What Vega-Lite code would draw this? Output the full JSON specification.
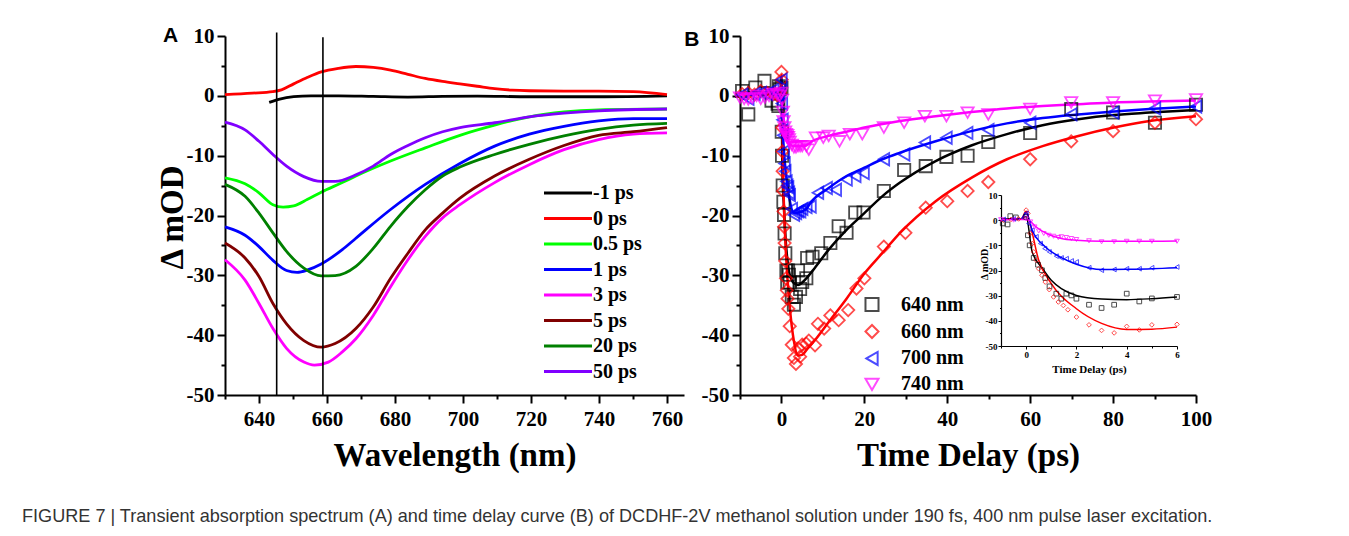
{
"$schema": "https://vega.github.io/schema/vega-lite/v6.json",
"background": "white",
"padding": {"left": 22, "top": 25, "right": 0, "bottom": 0},
"title": {"text": "FIGURE 7 | Transient absorption spectrum (A) and time delay curve (B) of DCDHF-2V methanol solution under 190 fs, 400 nm pulse laser excitation.", "orient": "bottom", "anchor": "start", "dx": -134, "offset": 36, "font": "Liberation Sans", "fontSize": 18.1, "fontWeight": "normal", "color": "#333333"},
"spacing": 0,
"resolve": {"scale": {"color": "independent", "shape": "independent", "stroke": "independent"}},
"datasets": {
"specA": [
{"s":"-1 ps","w":643,"v":-1.1},{"s":"-1 ps","w":646.1,"v":-0.55},{"s":"-1 ps","w":650.2,"v":-0.15},{"s":"-1 ps","w":655.3,"v":0},{"s":"-1 ps","w":663.4,"v":0},{"s":"-1 ps","w":673.6,"v":-0.1},{"s":"-1 ps","w":683.8,"v":-0.2},{"s":"-1 ps","w":694,"v":-0.1},{"s":"-1 ps","w":704.2,"v":-0.05},{"s":"-1 ps","w":719.5,"v":-0.15},{"s":"-1 ps","w":739.9,"v":-0.15},{"s":"-1 ps","w":760,"v":0},
{"s":"0 ps","w":630,"v":0.2},{"s":"0 ps","w":638,"v":0.45},{"s":"0 ps","w":644,"v":0.7},{"s":"0 ps","w":646.6,"v":1.0},{"s":"0 ps","w":650.2,"v":2.0},{"s":"0 ps","w":654.3,"v":3.1},{"s":"0 ps","w":658.3,"v":4.0},{"s":"0 ps","w":663.4,"v":4.6},{"s":"0 ps","w":668.5,"v":4.9},{"s":"0 ps","w":673.6,"v":4.75},{"s":"0 ps","w":678.7,"v":4.3},{"s":"0 ps","w":683.8,"v":3.6},{"s":"0 ps","w":688.9,"v":2.9},{"s":"0 ps","w":694,"v":2.4},{"s":"0 ps","w":699.1,"v":2.0},{"s":"0 ps","w":704.2,"v":1.6},{"s":"0 ps","w":709.3,"v":1.2},{"s":"0 ps","w":714.4,"v":0.95},{"s":"0 ps","w":719.5,"v":0.85},{"s":"0 ps","w":729.7,"v":0.8},{"s":"0 ps","w":739.9,"v":0.8},{"s":"0 ps","w":750.1,"v":0.7},{"s":"0 ps","w":760,"v":0.2},
{"s":"0.5 ps","w":630,"v":-13.7},{"s":"0.5 ps","w":635.9,"v":-14.7},{"s":"0.5 ps","w":640,"v":-16.2},{"s":"0.5 ps","w":644.1,"v":-18.2},{"s":"0.5 ps","w":647.1,"v":-18.6},{"s":"0.5 ps","w":650.2,"v":-18.4},{"s":"0.5 ps","w":654.3,"v":-17.3},{"s":"0.5 ps","w":658.3,"v":-16.1},{"s":"0.5 ps","w":664.5,"v":-14.5},{"s":"0.5 ps","w":668.5,"v":-13.4},{"s":"0.5 ps","w":678.7,"v":-10.9},{"s":"0.5 ps","w":688.9,"v":-8.7},{"s":"0.5 ps","w":699.1,"v":-6.6},{"s":"0.5 ps","w":709.3,"v":-4.9},{"s":"0.5 ps","w":719.5,"v":-3.5},{"s":"0.5 ps","w":729.7,"v":-2.7},{"s":"0.5 ps","w":739.9,"v":-2.35},{"s":"0.5 ps","w":760,"v":-2.2},
{"s":"1 ps","w":630,"v":-21.9},{"s":"1 ps","w":635.9,"v":-23.3},{"s":"1 ps","w":640,"v":-25.2},{"s":"1 ps","w":644.1,"v":-27.5},{"s":"1 ps","w":648.1,"v":-29.2},{"s":"1 ps","w":651.2,"v":-29.5},{"s":"1 ps","w":654.3,"v":-29.1},{"s":"1 ps","w":658.3,"v":-28.1},{"s":"1 ps","w":664.5,"v":-25.7},{"s":"1 ps","w":668.5,"v":-23.8},{"s":"1 ps","w":678.7,"v":-19.0},{"s":"1 ps","w":688.9,"v":-14.8},{"s":"1 ps","w":699.1,"v":-11.3},{"s":"1 ps","w":709.3,"v":-8.4},{"s":"1 ps","w":719.5,"v":-6.4},{"s":"1 ps","w":729.7,"v":-5.1},{"s":"1 ps","w":739.9,"v":-4.2},{"s":"1 ps","w":750.1,"v":-3.8},{"s":"1 ps","w":760,"v":-3.8},
{"s":"3 ps","w":630,"v":-27.4},{"s":"3 ps","w":635.9,"v":-30.8},{"s":"3 ps","w":640,"v":-34.7},{"s":"3 ps","w":644.1,"v":-38.9},{"s":"3 ps","w":648.1,"v":-42.2},{"s":"3 ps","w":653.2,"v":-44.5},{"s":"3 ps","w":656.3,"v":-45.0},{"s":"3 ps","w":660.4,"v":-44.5},{"s":"3 ps","w":664.5,"v":-42.8},{"s":"3 ps","w":668.5,"v":-40.6},{"s":"3 ps","w":673.6,"v":-36.7},{"s":"3 ps","w":678.7,"v":-31.9},{"s":"3 ps","w":683.8,"v":-27.4},{"s":"3 ps","w":688.9,"v":-23.5},{"s":"3 ps","w":694,"v":-20.4},{"s":"3 ps","w":699.1,"v":-18.2},{"s":"3 ps","w":709.3,"v":-14.5},{"s":"3 ps","w":719.5,"v":-11.5},{"s":"3 ps","w":729.7,"v":-9.0},{"s":"3 ps","w":739.9,"v":-7.3},{"s":"3 ps","w":750.1,"v":-6.4},{"s":"3 ps","w":760,"v":-6.2},
{"s":"5 ps","w":630,"v":-24.6},{"s":"5 ps","w":635.9,"v":-27.1},{"s":"5 ps","w":640,"v":-30.2},{"s":"5 ps","w":644.1,"v":-34.7},{"s":"5 ps","w":648.1,"v":-38.1},{"s":"5 ps","w":653.2,"v":-40.9},{"s":"5 ps","w":658.3,"v":-42.0},{"s":"5 ps","w":662.4,"v":-41.4},{"s":"5 ps","w":668.5,"v":-38.9},{"s":"5 ps","w":673.6,"v":-35.3},{"s":"5 ps","w":678.7,"v":-30.5},{"s":"5 ps","w":683.8,"v":-26.3},{"s":"5 ps","w":688.9,"v":-22.4},{"s":"5 ps","w":694,"v":-19.6},{"s":"5 ps","w":699.1,"v":-17.1},{"s":"5 ps","w":709.3,"v":-13.4},{"s":"5 ps","w":719.5,"v":-10.6},{"s":"5 ps","w":729.7,"v":-8.3},{"s":"5 ps","w":739.9,"v":-6.6},{"s":"5 ps","w":750.1,"v":-6.0},{"s":"5 ps","w":760,"v":-5.3},
{"s":"20 ps","w":630,"v":-14.8},{"s":"20 ps","w":635.9,"v":-16.8},{"s":"20 ps","w":640,"v":-19.6},{"s":"20 ps","w":644.1,"v":-22.9},{"s":"20 ps","w":648.1,"v":-26.0},{"s":"20 ps","w":653.2,"v":-28.8},{"s":"20 ps","w":658.3,"v":-30.1},{"s":"20 ps","w":662.4,"v":-30.05},{"s":"20 ps","w":668.5,"v":-28.5},{"s":"20 ps","w":673.6,"v":-25.5},{"s":"20 ps","w":678.7,"v":-21.8},{"s":"20 ps","w":683.8,"v":-18.5},{"s":"20 ps","w":688.9,"v":-15.7},{"s":"20 ps","w":694,"v":-13.4},{"s":"20 ps","w":699.1,"v":-11.9},{"s":"20 ps","w":709.3,"v":-9.8},{"s":"20 ps","w":719.5,"v":-8.1},{"s":"20 ps","w":729.7,"v":-6.7},{"s":"20 ps","w":739.9,"v":-5.6},{"s":"20 ps","w":750.1,"v":-4.9},{"s":"20 ps","w":760,"v":-4.6},
{"s":"50 ps","w":630,"v":-4.4},{"s":"50 ps","w":635.9,"v":-5.7},{"s":"50 ps","w":640,"v":-7.6},{"s":"50 ps","w":644.1,"v":-9.8},{"s":"50 ps","w":648.1,"v":-11.75},{"s":"50 ps","w":653.2,"v":-13.5},{"s":"50 ps","w":658.3,"v":-14.3},{"s":"50 ps","w":662.4,"v":-14.3},{"s":"50 ps","w":668.5,"v":-13.2},{"s":"50 ps","w":673.6,"v":-11.75},{"s":"50 ps","w":678.7,"v":-9.8},{"s":"50 ps","w":683.8,"v":-8.3},{"s":"50 ps","w":688.9,"v":-7.0},{"s":"50 ps","w":694,"v":-6.0},{"s":"50 ps","w":699.1,"v":-5.3},{"s":"50 ps","w":709.3,"v":-4.5},{"s":"50 ps","w":719.5,"v":-3.5},{"s":"50 ps","w":729.7,"v":-2.9},{"s":"50 ps","w":739.9,"v":-2.5},{"s":"50 ps","w":760,"v":-2.2}
],
"vlines": [{"w":645.2,"bottom":-50,"top":10.6},{"w":658.8,"bottom":-50,"top":9.8}],
"markersB": [
{"s":"640 nm","t":-9.5,"v":0.8},{"s":"640 nm","t":-8,"v":-3.1},{"s":"640 nm","t":-6.3,"v":1.4},{"s":"640 nm","t":-4.1,"v":2.5},{"s":"640 nm","t":-2.4,"v":-0.8},{"s":"640 nm","t":-0.93,"v":-1.3},{"s":"640 nm","t":-0.74,"v":-1.7},{"s":"640 nm","t":-0.63,"v":1.6},{"s":"640 nm","t":-0.41,"v":1.1},{"s":"640 nm","t":0,"v":1.3},{"s":"640 nm","t":0.07,"v":-6},{"s":"640 nm","t":0.14,"v":-10},{"s":"640 nm","t":0.3,"v":-15},{"s":"640 nm","t":0.47,"v":-17.7},{"s":"640 nm","t":0.63,"v":-19.9},{"s":"640 nm","t":0.76,"v":-23},{"s":"640 nm","t":0.93,"v":-26.3},{"s":"640 nm","t":1.2,"v":-29.2},{"s":"640 nm","t":1.4,"v":-31.2},{"s":"640 nm","t":1.6,"v":-29.2},{"s":"640 nm","t":1.8,"v":-29.9},{"s":"640 nm","t":2,"v":-31.2},{"s":"640 nm","t":2.5,"v":-33.6},{"s":"640 nm","t":3,"v":-34.9},{"s":"640 nm","t":3.5,"v":-33.6},{"s":"640 nm","t":4,"v":-29.2},{"s":"640 nm","t":4.5,"v":-32.3},{"s":"640 nm","t":5,"v":-31.1},{"s":"640 nm","t":6,"v":-30.5},{"s":"640 nm","t":6.2,"v":-27.1},{"s":"640 nm","t":7.5,"v":-26.9},{"s":"640 nm","t":9.6,"v":-26.3},{"s":"640 nm","t":11.8,"v":-24.6},{"s":"640 nm","t":13.8,"v":-21.8},{"s":"640 nm","t":15.7,"v":-22.9},{"s":"640 nm","t":17.8,"v":-19.5},{"s":"640 nm","t":19.8,"v":-19.5},{"s":"640 nm","t":24.7,"v":-15.9},{"s":"640 nm","t":29.6,"v":-12.4},{"s":"640 nm","t":34.8,"v":-11.75},{"s":"640 nm","t":39.8,"v":-10.2},{"s":"640 nm","t":44.9,"v":-10.0},{"s":"640 nm","t":49.9,"v":-7.7},{"s":"640 nm","t":60,"v":-6.2},{"s":"640 nm","t":69.9,"v":-2.2},{"s":"640 nm","t":80,"v":-2.8},{"s":"640 nm","t":90.1,"v":-4.5},{"s":"640 nm","t":100,"v":-1.5},
{"s":"660 nm","t":-9.5,"v":0.3},{"s":"660 nm","t":-8,"v":0.5},{"s":"660 nm","t":-6.5,"v":0.2},{"s":"660 nm","t":-5,"v":0.8},{"s":"660 nm","t":-3.5,"v":0.5},{"s":"660 nm","t":-2,"v":0.3},{"s":"660 nm","t":-0.9,"v":0},{"s":"660 nm","t":-0.6,"v":0.3},{"s":"660 nm","t":-0.3,"v":0.5},{"s":"660 nm","t":0,"v":4.0},{"s":"660 nm","t":0.07,"v":2.7},{"s":"660 nm","t":0.17,"v":-5.3},{"s":"660 nm","t":0.24,"v":-9.3},{"s":"660 nm","t":0.3,"v":-12.6},{"s":"660 nm","t":0.4,"v":-15.9},{"s":"660 nm","t":0.5,"v":-19.3},{"s":"660 nm","t":0.63,"v":-21.9},{"s":"660 nm","t":0.76,"v":-24.6},{"s":"660 nm","t":0.92,"v":-27.6},{"s":"660 nm","t":1.09,"v":-30.5},{"s":"660 nm","t":1.28,"v":-32.5},{"s":"660 nm","t":1.48,"v":-33.9},{"s":"660 nm","t":1.66,"v":-35.6},{"s":"660 nm","t":2,"v":-38.5},{"s":"660 nm","t":2.5,"v":-41.6},{"s":"660 nm","t":3,"v":-43.8},{"s":"660 nm","t":3.5,"v":-44.8},{"s":"660 nm","t":4,"v":-42.2},{"s":"660 nm","t":4.5,"v":-43.6},{"s":"660 nm","t":5,"v":-41.6},{"s":"660 nm","t":6,"v":-41.4},{"s":"660 nm","t":6.6,"v":-40.9},{"s":"660 nm","t":8.1,"v":-41.7},{"s":"660 nm","t":8.8,"v":-38.1},{"s":"660 nm","t":10.3,"v":-38.9},{"s":"660 nm","t":11.8,"v":-36.7},{"s":"660 nm","t":13.8,"v":-37.5},{"s":"660 nm","t":16.1,"v":-35.8},{"s":"660 nm","t":18.1,"v":-32.2},{"s":"660 nm","t":20,"v":-30.5},{"s":"660 nm","t":24.7,"v":-25.2},{"s":"660 nm","t":29.9,"v":-22.9},{"s":"660 nm","t":34.8,"v":-18.7},{"s":"660 nm","t":40,"v":-17.6},{"s":"660 nm","t":44.9,"v":-15.9},{"s":"660 nm","t":49.9,"v":-14.4},{"s":"660 nm","t":60,"v":-10.6},{"s":"660 nm","t":69.9,"v":-7.6},{"s":"660 nm","t":80,"v":-5.9},{"s":"660 nm","t":90.1,"v":-4.5},{"s":"660 nm","t":100,"v":-3.9},
{"s":"700 nm","t":-9.5,"v":0.2},{"s":"700 nm","t":-8,"v":-0.5},{"s":"700 nm","t":-6.5,"v":0.3},{"s":"700 nm","t":-5,"v":0.5},{"s":"700 nm","t":-3.5,"v":0.3},{"s":"700 nm","t":-2,"v":1.0},{"s":"700 nm","t":-0.9,"v":0.3},{"s":"700 nm","t":-0.5,"v":0.5},{"s":"700 nm","t":0,"v":2.7},{"s":"700 nm","t":0.1,"v":-1.3},{"s":"700 nm","t":0.24,"v":-4},{"s":"700 nm","t":0.4,"v":-6.6},{"s":"700 nm","t":0.57,"v":-9.3},{"s":"700 nm","t":0.74,"v":-11.3},{"s":"700 nm","t":0.92,"v":-12.6},{"s":"700 nm","t":1.2,"v":-14.3},{"s":"700 nm","t":1.4,"v":-15},{"s":"700 nm","t":1.6,"v":-15.3},{"s":"700 nm","t":1.8,"v":-16.2},{"s":"700 nm","t":2,"v":-16.6},{"s":"700 nm","t":2.5,"v":-18.9},{"s":"700 nm","t":3,"v":-19.9},{"s":"700 nm","t":3.5,"v":-19.6},{"s":"700 nm","t":4,"v":-19.3},{"s":"700 nm","t":4.5,"v":-19.3},{"s":"700 nm","t":5,"v":-18.9},{"s":"700 nm","t":6,"v":-18.6},{"s":"700 nm","t":7,"v":-18.5},{"s":"700 nm","t":8.8,"v":-16.2},{"s":"700 nm","t":10.9,"v":-15.4},{"s":"700 nm","t":13.1,"v":-15.7},{"s":"700 nm","t":15.7,"v":-14},{"s":"700 nm","t":17.8,"v":-13.4},{"s":"700 nm","t":19.8,"v":-12.9},{"s":"700 nm","t":24.7,"v":-10.6},{"s":"700 nm","t":29.6,"v":-9.8},{"s":"700 nm","t":34.6,"v":-7.8},{"s":"700 nm","t":39.8,"v":-7.0},{"s":"700 nm","t":44.8,"v":-6.2},{"s":"700 nm","t":49.9,"v":-5.7},{"s":"700 nm","t":60,"v":-4.5},{"s":"700 nm","t":69.9,"v":-3.1},{"s":"700 nm","t":80,"v":-2.8},{"s":"700 nm","t":90.1,"v":-2.1},{"s":"700 nm","t":100,"v":-1.8},
{"s":"740 nm","t":-10,"v":-0.3},{"s":"740 nm","t":-9,"v":-0.5},{"s":"740 nm","t":-8,"v":-0.6},{"s":"740 nm","t":-7,"v":-0.4},{"s":"740 nm","t":-6,"v":0},{"s":"740 nm","t":-5,"v":-0.5},{"s":"740 nm","t":-4,"v":-0.3},{"s":"740 nm","t":-3,"v":0},{"s":"740 nm","t":-2,"v":0.3},{"s":"740 nm","t":-1,"v":0.2},{"s":"740 nm","t":-0.5,"v":0},{"s":"740 nm","t":0,"v":0.5},{"s":"740 nm","t":0.17,"v":-0.7},{"s":"740 nm","t":0.34,"v":-2.7},{"s":"740 nm","t":0.5,"v":-4.3},{"s":"740 nm","t":0.7,"v":-5.3},{"s":"740 nm","t":0.9,"v":-6},{"s":"740 nm","t":1.09,"v":-6.4},{"s":"740 nm","t":1.28,"v":-6.9},{"s":"740 nm","t":1.4,"v":-6.6},{"s":"740 nm","t":1.6,"v":-6.9},{"s":"740 nm","t":1.8,"v":-7.3},{"s":"740 nm","t":2,"v":-7.7},{"s":"740 nm","t":2.5,"v":-8.2},{"s":"740 nm","t":3,"v":-8.6},{"s":"740 nm","t":3.5,"v":-8.6},{"s":"740 nm","t":4,"v":-8.4},{"s":"740 nm","t":4.5,"v":-8.4},{"s":"740 nm","t":5,"v":-8.4},{"s":"740 nm","t":6,"v":-8.4},{"s":"740 nm","t":6.6,"v":-9},{"s":"740 nm","t":8.3,"v":-7.0},{"s":"740 nm","t":10.1,"v":-7.0},{"s":"740 nm","t":11.4,"v":-6.7},{"s":"740 nm","t":14,"v":-7.6},{"s":"740 nm","t":16.5,"v":-6.4},{"s":"740 nm","t":19.5,"v":-6.4},{"s":"740 nm","t":24.7,"v":-5.3},{"s":"740 nm","t":29.6,"v":-4.5},{"s":"740 nm","t":34.6,"v":-3.4},{"s":"740 nm","t":39.8,"v":-3.4},{"s":"740 nm","t":44.9,"v":-2.8},{"s":"740 nm","t":49.9,"v":-3.1},{"s":"740 nm","t":60,"v":-2.2},{"s":"740 nm","t":69.9,"v":-1.1},{"s":"740 nm","t":80,"v":-1.1},{"s":"740 nm","t":90.1,"v":-0.8},{"s":"740 nm","t":100,"v":-0.6}
],
"fitsB": [
{"s":"640 nm","t":-10,"v":0.5},{"s":"640 nm","t":-5,"v":0.5},{"s":"640 nm","t":-1,"v":0.5},{"s":"640 nm","t":-0.2,"v":0.6},{"s":"640 nm","t":0,"v":1.5},{"s":"640 nm","t":0.24,"v":-12.6},{"s":"640 nm","t":0.63,"v":-18.9},{"s":"640 nm","t":1,"v":-23.9},{"s":"640 nm","t":1.4,"v":-27.2},{"s":"640 nm","t":2,"v":-29.9},{"s":"640 nm","t":3,"v":-31.3},{"s":"640 nm","t":4,"v":-31.6},{"s":"640 nm","t":5,"v":-31.2},{"s":"640 nm","t":6,"v":-30.5},{"s":"640 nm","t":8,"v":-28.8},{"s":"640 nm","t":11.4,"v":-25.7},{"s":"640 nm","t":15.7,"v":-22.4},{"s":"640 nm","t":20,"v":-19.6},{"s":"640 nm","t":24.3,"v":-16.8},{"s":"640 nm","t":28.6,"v":-14.5},{"s":"640 nm","t":37.2,"v":-10.9},{"s":"640 nm","t":45.8,"v":-8.3},{"s":"640 nm","t":54.4,"v":-6.4},{"s":"640 nm","t":63,"v":-4.9},{"s":"640 nm","t":71.6,"v":-3.9},{"s":"640 nm","t":80.2,"v":-3.2},{"s":"640 nm","t":88.8,"v":-2.8},{"s":"640 nm","t":100,"v":-2.35},
{"s":"660 nm","t":-10,"v":0.3},{"s":"660 nm","t":-5,"v":0.3},{"s":"660 nm","t":-1,"v":0.3},{"s":"660 nm","t":-0.2,"v":0.5},{"s":"660 nm","t":0,"v":3.5},{"s":"660 nm","t":0.1,"v":0.7},{"s":"660 nm","t":0.5,"v":-15.9},{"s":"660 nm","t":1,"v":-25.2},{"s":"660 nm","t":2,"v":-35.2},{"s":"660 nm","t":3,"v":-41.0},{"s":"660 nm","t":4,"v":-43.4},{"s":"660 nm","t":5,"v":-43.3},{"s":"660 nm","t":6,"v":-42.5},{"s":"660 nm","t":8,"v":-40.9},{"s":"660 nm","t":11.4,"v":-37.8},{"s":"660 nm","t":15.7,"v":-33.9},{"s":"660 nm","t":20,"v":-29.7},{"s":"660 nm","t":24.3,"v":-26.3},{"s":"660 nm","t":28.6,"v":-22.9},{"s":"660 nm","t":37.2,"v":-17.6},{"s":"660 nm","t":45.8,"v":-13.7},{"s":"660 nm","t":54.4,"v":-10.6},{"s":"660 nm","t":63,"v":-8.4},{"s":"660 nm","t":71.6,"v":-6.7},{"s":"660 nm","t":80.2,"v":-5.3},{"s":"660 nm","t":88.8,"v":-4.2},{"s":"660 nm","t":100,"v":-3.4},
{"s":"700 nm","t":-10,"v":0.3},{"s":"700 nm","t":-5,"v":0.3},{"s":"700 nm","t":-1,"v":0.3},{"s":"700 nm","t":-0.2,"v":0.5},{"s":"700 nm","t":0,"v":3.0},{"s":"700 nm","t":0.24,"v":-4},{"s":"700 nm","t":0.76,"v":-10.6},{"s":"700 nm","t":1.4,"v":-14.9},{"s":"700 nm","t":2,"v":-17.5},{"s":"700 nm","t":3,"v":-19.6},{"s":"700 nm","t":4,"v":-19.5},{"s":"700 nm","t":5,"v":-19.3},{"s":"700 nm","t":6,"v":-18.9},{"s":"700 nm","t":7.1,"v":-17.8},{"s":"700 nm","t":11.4,"v":-15.4},{"s":"700 nm","t":15.7,"v":-13.4},{"s":"700 nm","t":20,"v":-12.0},{"s":"700 nm","t":24.3,"v":-10.6},{"s":"700 nm","t":28.6,"v":-9.5},{"s":"700 nm","t":37.2,"v":-7.6},{"s":"700 nm","t":45.8,"v":-5.9},{"s":"700 nm","t":54.4,"v":-4.6},{"s":"700 nm","t":63,"v":-3.7},{"s":"700 nm","t":71.6,"v":-3.1},{"s":"700 nm","t":80.2,"v":-2.6},{"s":"700 nm","t":88.8,"v":-2.2},{"s":"700 nm","t":100,"v":-1.8},
{"s":"740 nm","t":-10,"v":0.2},{"s":"740 nm","t":-5,"v":0.2},{"s":"740 nm","t":-1,"v":0.2},{"s":"740 nm","t":0,"v":0.3},{"s":"740 nm","t":0.1,"v":0.1},{"s":"740 nm","t":0.36,"v":-2.4},{"s":"740 nm","t":0.9,"v":-5.7},{"s":"740 nm","t":1.4,"v":-7.3},{"s":"740 nm","t":2,"v":-8},{"s":"740 nm","t":3,"v":-8.4},{"s":"740 nm","t":4,"v":-8.4},{"s":"740 nm","t":5,"v":-8.4},{"s":"740 nm","t":6,"v":-8.3},{"s":"740 nm","t":7.1,"v":-7.7},{"s":"740 nm","t":11.4,"v":-6.7},{"s":"740 nm","t":15.7,"v":-6.0},{"s":"740 nm","t":20,"v":-5.3},{"s":"740 nm","t":28.6,"v":-4.2},{"s":"740 nm","t":37.2,"v":-3.4},{"s":"740 nm","t":45.8,"v":-2.7},{"s":"740 nm","t":54.4,"v":-2.1},{"s":"740 nm","t":63,"v":-1.7},{"s":"740 nm","t":71.6,"v":-1.4},{"s":"740 nm","t":80.2,"v":-1.1},{"s":"740 nm","t":88.8,"v":-0.95},{"s":"740 nm","t":100,"v":-0.8}
]
},
"hconcat": [
{
"width": 459, "height": 359,
"resolve": {"scale": {"x": "independent", "y": "independent"}},
"layer": [
{
"data": {"name": "specA"},
"mark": {"type": "line", "strokeWidth": 2.8, "interpolate": "monotone"},
"encoding": {
"x": {"field": "w", "type": "quantitative", "scale": {"domain": [630, 765], "nice": false, "zero": false},
"axis": {"orient": "bottom", "labelOverlap": false, "values": [630,640,650,660,670,680,690,700,710,720,730,740,750,760], "labelExpr": "datum.value % 20 === 0 ? '' + datum.value : ''", "tickSize": {"condition": {"test": "datum.value % 20 === 0", "value": 8}, "value": 4}, "labelPadding": 5, "title": "Wavelength (nm)", "titleY": 70, "titleBaseline": "alphabetic"}},
"y": {"field": "v", "type": "quantitative", "scale": {"domain": [-50, 10], "nice": false, "zero": false},
"axis": {"orient": "left", "labelOverlap": false, "values": [-50,-45,-40,-35,-30,-25,-20,-15,-10,-5,0,5,10], "labelExpr": "datum.value % 10 === 0 ? '' + datum.value : ''", "tickSize": {"condition": {"test": "datum.value % 10 === 0", "value": 8}, "value": 4}, "labelPadding": 3, "title": "Δ mOD", "titleX": -43, "titleY": 181, "titleAngle": -90, "titleAlign": "center", "titleBaseline": "alphabetic"}},
"color": {"field": "s", "type": "nominal",
"scale": {"domain": ["-1 ps","0 ps","0.5 ps","1 ps","3 ps","5 ps","20 ps","50 ps"], "range": ["#000000","#ff0000","#00ff00","#0000ff","#ff00ff","#800000","#008000","#8000ff"]},
"legend": {"title": null, "orient": "none", "legendX": 333, "legendY": 147, "padding": 0, "symbolType": "M-4,0H4", "symbolSize": 144, "symbolStrokeWidth": 3, "labelOffset": 15, "rowPadding": 5.5, "labelFont": "Liberation Serif", "labelFontWeight": "bold", "labelFontSize": 20, "labelColor": "#000000"}}
}
},
{
"data": {"name": "vlines"},
"mark": {"type": "rule", "strokeWidth": 1.6, "color": "#000000"},
"encoding": {
"x": {"field": "w", "type": "quantitative", "scale": {"domain": [630, 765], "nice": false, "zero": false}, "axis": null},
"y": {"field": "bottom", "type": "quantitative", "scale": {"domain": [-50, 10], "nice": false, "zero": false}, "axis": null},
"y2": {"field": "top"}
}
},
{
"data": {"values": [{}]},
"mark": {"type": "text", "text": "A", "font": "Liberation Sans", "fontWeight": "bold", "fontSize": 21, "align": "center", "baseline": "middle", "color": "#000000"},
"encoding": {
"x": {"datum": 614, "type": "quantitative", "scale": {"domain": [630, 765], "nice": false, "zero": false}, "axis": null},
"y": {"datum": 10, "type": "quantitative", "scale": {"domain": [-50, 10], "nice": false, "zero": false}, "axis": null}
}
}
]
},
{
"width": 456, "height": 359,
"resolve": {"scale": {"x": "independent", "y": "independent"}},
"layer": [
{
"data": {"name": "fitsB"},
"mark": {"type": "line", "strokeWidth": 2.5, "interpolate": "monotone"},
"encoding": {
"x": {"field": "t", "type": "quantitative", "scale": {"domain": [-10, 100], "nice": false, "zero": false},
"axis": {"orient": "bottom", "labelOverlap": false, "values": [-10,0,10,20,30,40,50,60,70,80,90,100], "labelExpr": "datum.value % 20 === 0 ? '' + datum.value : ''", "tickSize": {"condition": {"test": "datum.value % 20 === 0", "value": 8}, "value": 4}, "labelPadding": 5, "title": "Time Delay (ps)", "titleY": 70, "titleBaseline": "alphabetic"}},
"y": {"field": "v", "type": "quantitative", "scale": {"domain": [-50, 10], "nice": false, "zero": false},
"axis": {"orient": "left", "labelOverlap": false, "values": [-50,-45,-40,-35,-30,-25,-20,-15,-10,-5,0,5,10], "labelExpr": "datum.value % 10 === 0 ? '' + datum.value : ''", "tickSize": {"condition": {"test": "datum.value % 10 === 0", "value": 8}, "value": 4}, "labelPadding": 3, "title": null}},
"stroke": {"field": "s", "type": "nominal", "scale": {"domain": ["740 nm","700 nm","660 nm","640 nm"], "range": ["#ff00ff","#0000ff","#ff0000","#000000"]}, "legend": null}
}
},
{
"data": {"name": "markersB"},
"mark": {"type": "point", "filled": false, "size": 150, "strokeWidth": 1.8},
"encoding": {
"x": {"field": "t", "type": "quantitative", "scale": {"domain": [-10, 100], "nice": false, "zero": false}, "axis": null},
"y": {"field": "v", "type": "quantitative", "scale": {"domain": [-50, 10], "nice": false, "zero": false}, "axis": null},
"color": {"field": "s", "type": "nominal", "scale": {"domain": ["640 nm","660 nm","700 nm","740 nm"], "range": ["#000000","#ff0000","#0000ff","#ff00ff"]},
"legend": {"title": null, "orient": "none", "legendX": 122, "legendY": 258.6, "padding": 0, "symbolSize": 170, "symbolStrokeWidth": 2, "labelOffset": 19, "rowPadding": 4.9, "labelFont": "Liberation Serif", "labelFontWeight": "bold", "labelFontSize": 20, "labelColor": "#000000"}},
"shape": {"field": "s", "type": "nominal", "scale": {"domain": ["640 nm","660 nm","700 nm","740 nm"], "range": ["square","diamond","triangle-left","triangle-down"]},
"legend": {"title": null, "orient": "none", "legendX": 122, "legendY": 258.6, "padding": 0, "symbolSize": 170, "symbolStrokeWidth": 2, "labelOffset": 19, "rowPadding": 4.9, "labelFont": "Liberation Serif", "labelFontWeight": "bold", "labelFontSize": 20, "labelColor": "#000000"}}
}
},
{
"data": {"values": [{}]},
"mark": {"type": "text", "text": "B", "font": "Liberation Sans", "fontWeight": "bold", "fontSize": 21, "align": "center", "baseline": "middle", "color": "#000000"},
"encoding": {
"x": {"datum": -21.6, "type": "quantitative", "scale": {"domain": [-10, 100], "nice": false, "zero": false}, "axis": null},
"y": {"datum": 9.3, "type": "quantitative", "scale": {"domain": [-50, 10], "nice": false, "zero": false}, "axis": null}
}
},
{
"data": {"name": "fitsB"},
"transform": [{"filter": "datum.t >= -1 && datum.t <= 6"}],
"mark": {"type": "line", "strokeWidth": 1.5, "interpolate": "monotone"},
"encoding": {
"x": {"field": "t", "type": "quantitative", "scale": {"domain": [-1, 6], "nice": false, "zero": false, "range": [261, 437]},
"axis": {"orient": "bottom", "offset": -49, "labelOverlap": false, "values": [-1,0,1,2,3,4,5,6], "labelExpr": "datum.value % 2 === 0 ? '' + datum.value : ''", "tickSize": {"condition": {"test": "datum.value % 2 === 0", "value": 3}, "value": 2}, "tickWidth": 1, "domainWidth": 1.2, "labelFontSize": 9, "labelPadding": 1, "title": "Time Delay (ps)", "titleFontSize": 11, "titleY": 26, "titleBaseline": "alphabetic"}},
"y": {"field": "v", "type": "quantitative", "scale": {"domain": [-50, 10], "nice": false, "zero": false, "range": [310, 159]},
"axis": {"orient": "left", "offset": -261, "labelOverlap": false, "values": [-50,-45,-40,-35,-30,-25,-20,-15,-10,-5,0,5,10], "labelExpr": "datum.value % 10 === 0 ? '' + datum.value : ''", "tickSize": {"condition": {"test": "datum.value % 10 === 0", "value": 3}, "value": 1.5}, "tickWidth": 1, "domainWidth": 1.2, "labelFontSize": 9, "labelPadding": 1, "title": "Δ mOD", "titleFontSize": 10, "titleX": -14, "titleY": 228, "titleAngle": -90, "titleAlign": "center", "titleBaseline": "alphabetic"}},
"stroke": {"field": "s", "type": "nominal", "legend": null}
}
},
{
"data": {"name": "markersB"},
"transform": [{"filter": "datum.t >= -1 && datum.t <= 6"}],
"mark": {"type": "point", "filled": false, "size": 22, "strokeWidth": 1},
"encoding": {
"x": {"field": "t", "type": "quantitative", "scale": {"domain": [-1, 6], "nice": false, "zero": false, "range": [261, 437]}, "axis": null},
"y": {"field": "v", "type": "quantitative", "scale": {"domain": [-50, 10], "nice": false, "zero": false, "range": [310, 159]}, "axis": null},
"stroke": {"field": "s", "type": "nominal", "legend": null},
"shape": {"field": "s", "type": "nominal"}
}
}
]
}
],
"config": {
"view": {"stroke": null},
"axis": {"grid": false, "domainColor": "#000000", "domainWidth": 2, "tickColor": "#000000", "tickWidth": 2, "labelFont": "Liberation Serif", "labelFontWeight": "bold", "labelFontSize": 21, "labelColor": "#000000", "titleFont": "Liberation Serif", "titleFontWeight": "bold", "titleFontSize": 33, "titleColor": "#000000", "labelOverlap": false, "labelFlush": false, "labelBound": false}
}
}
